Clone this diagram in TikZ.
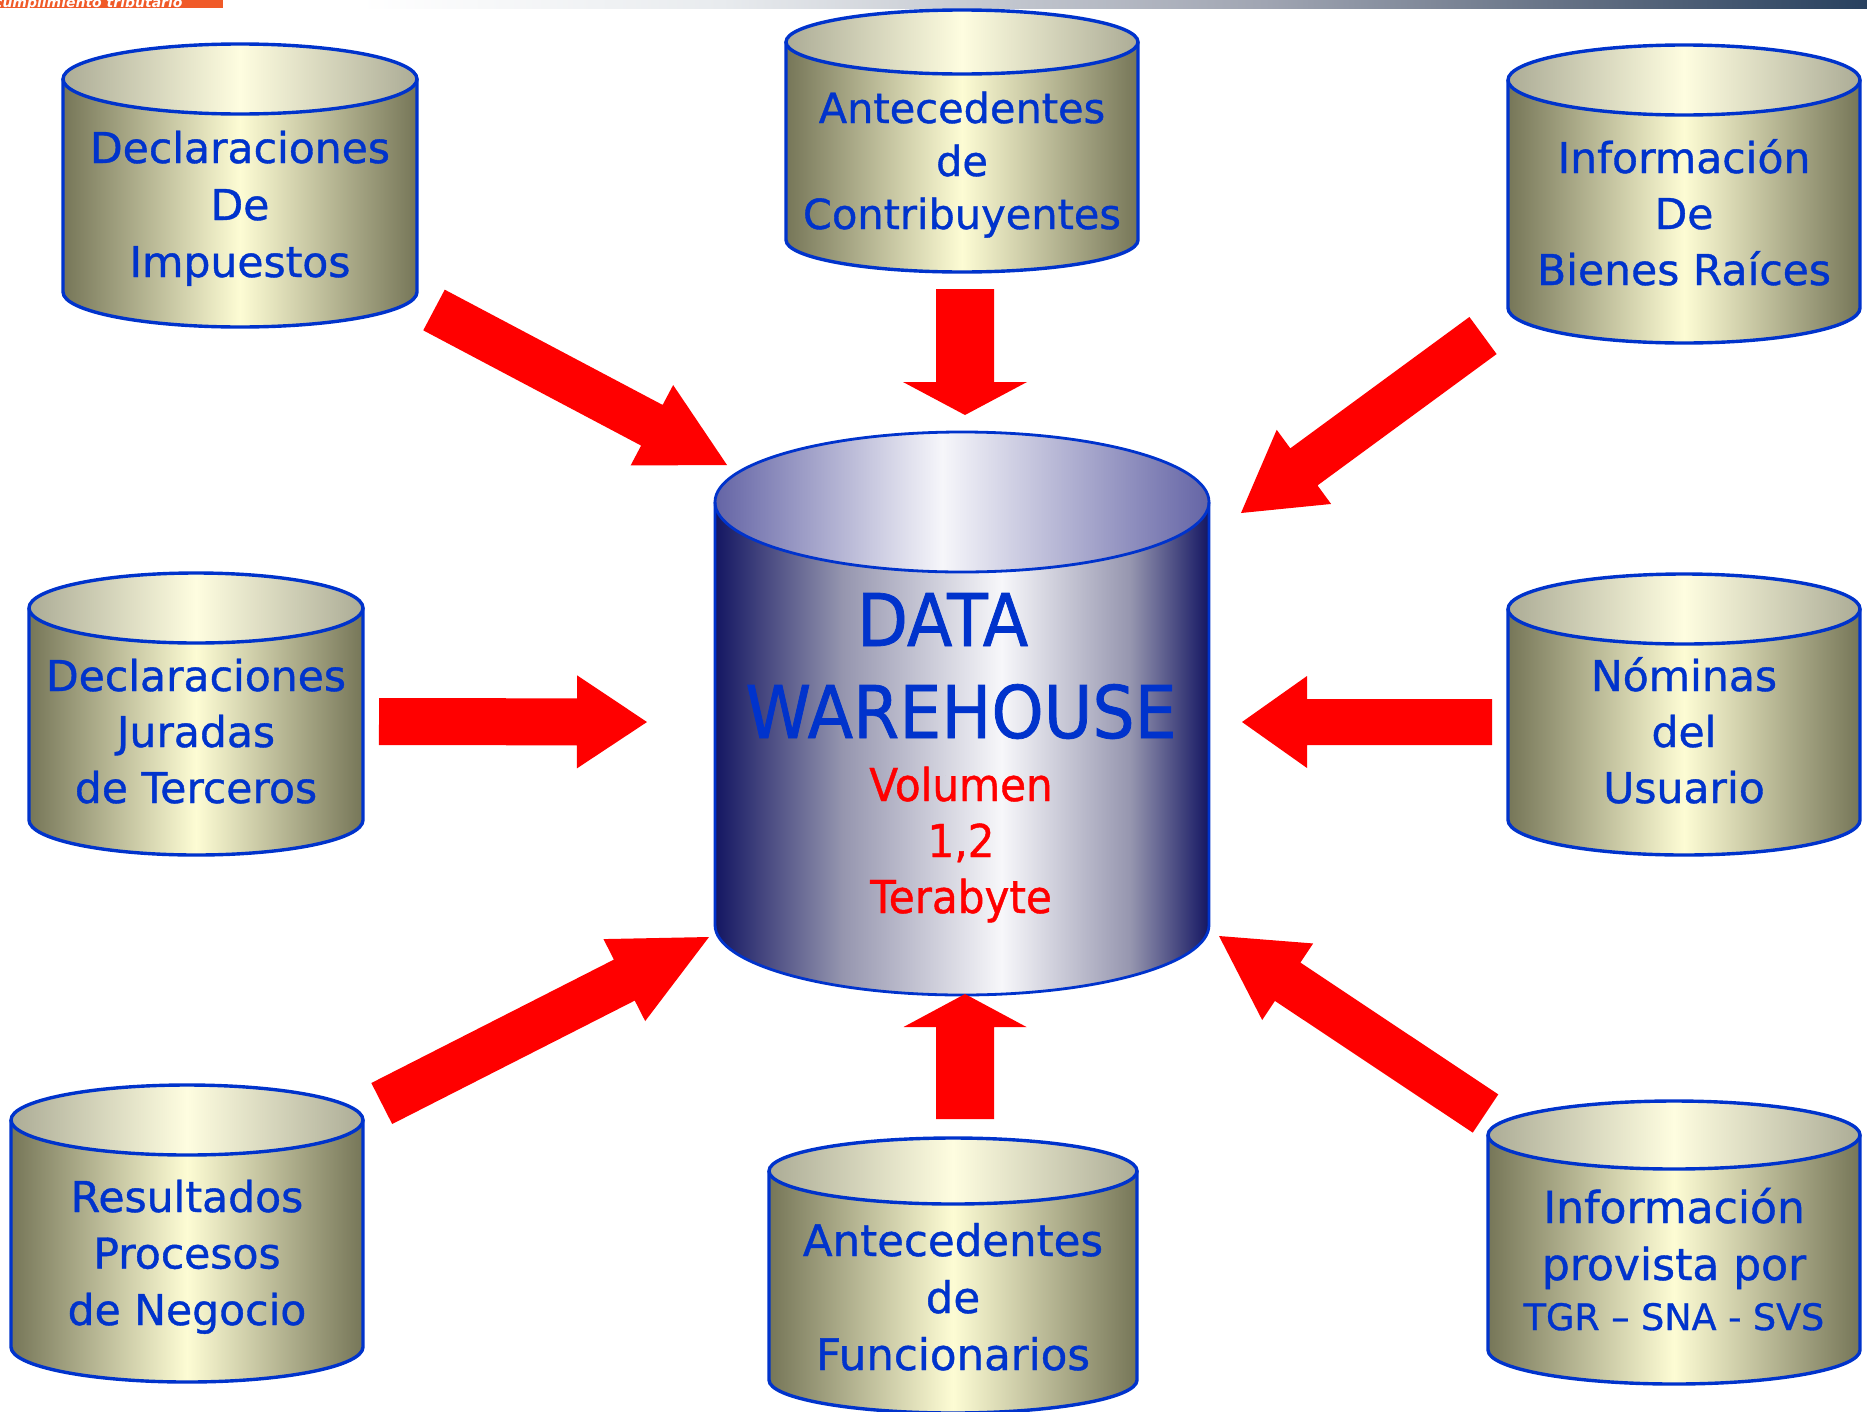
\documentclass[tikz,border=0pt]{standalone}
\usepackage{fontspec}
\setmainfont{DejaVu Sans}[FakeBold=0.9]
\newfontfamily\titlefont{DejaVu Sans}[FakeStretch=0.915,FakeBold=1.0]
\newfontfamily\redfont{DejaVu Sans}[FakeStretch=0.93,FakeBold=0.9]
\newfontfamily\hdrfont{DejaVu Sans}
\usetikzlibrary{calc}

\definecolor{txtblue}{RGB}{0,51,204}
\definecolor{cylline}{RGB}{0,51,204}
\definecolor{arrowred}{RGB}{255,0,0}
\definecolor{hdrorange}{RGB}{240,90,40}
\definecolor{olD}{RGB}{118,118,88}
\definecolor{olL}{RGB}{253,252,212}
\definecolor{otD}{RGB}{172,172,150}
\definecolor{otL}{RGB}{254,253,224}
\definecolor{nD}{RGB}{20,22,98}
\definecolor{nM}{RGB}{150,150,175}
\definecolor{nL}{RGB}{247,247,250}
\definecolor{ntD}{RGB}{100,100,165}
\definecolor{ntL}{RGB}{246,246,250}
\definecolor{barA}{RGB}{232,235,238}
\definecolor{barB}{RGB}{160,165,178}
\definecolor{barC}{RGB}{95,108,128}
\definecolor{barD}{RGB}{40,65,95}

\pgfdeclarehorizontalshading{smallside}{100bp}{color(0bp)=(olD); color(25bp)=(olD); color(50bp)=(olL); color(75bp)=(olD); color(100bp)=(olD)}
\pgfdeclarehorizontalshading{smalltop}{100bp}{color(0bp)=(otD); color(25bp)=(otD); color(50bp)=(otL); color(75bp)=(otD); color(100bp)=(otD)}
\pgfdeclarehorizontalshading{bigside}{100bp}{color(0bp)=(nD); color(25bp)=(nD); color(38bp)=(nM); color(54bp)=(nL); color(67bp)=(nM); color(75bp)=(nD); color(100bp)=(nD)}
\pgfdeclarehorizontalshading{bigtop}{100bp}{color(0bp)=(ntD); color(25bp)=(ntD); color(48bp)=(ntL); color(75bp)=(ntD); color(100bp)=(ntD)}
\pgfdeclarehorizontalshading{barshade}{100bp}{color(0bp)=(white); color(25bp)=(white); color(37bp)=(barA); color(55bp)=(barB); color(66bp)=(barC); color(75bp)=(barD); color(100bp)=(barD)}

% #1 name, #2 cx, #3 top cy, #4 bottom cy, #5 rx, #6 ry, #7 small|big, #8 line width
\newcommand\drawcyl[8]{%
  \coordinate (#1) at (#2,{(#3+#4)/2});
  \shade[shading=#7side] (#2-#5,#3) -- (#2-#5,#4) arc[start angle=180,end angle=0,x radius=#5,y radius=#6] -- (#2+#5,#3) -- cycle;
  \shade[shading=#7top] (#2,#3) ellipse[x radius=#5,y radius=#6];
  \draw[draw=cylline,line width=#8] (#2-#5,#3) -- (#2-#5,#4) arc[start angle=180,end angle=0,x radius=#5,y radius=#6] -- (#2+#5,#3);
  \draw[draw=cylline,line width=#8] (#2,#3) ellipse[x radius=#5,y radius=#6];
}
% #1 tail, #2 tip, #3 shaft half width, #4 head half width, #5 head length
\newcommand\blockarrow[5]{%
  \coordinate (hb) at ($(#2)!#5!(#1)$);
  \fill[arrowred] ($(#1)!#3!90:(#2)$) -- ($(hb)!#3!90:(#2)$) -- ($(hb)!#4!90:(#2)$) -- (#2)
    -- ($(hb)!#4!-90:(#2)$) -- ($(hb)!#3!-90:(#2)$) -- ($(#1)!#3!-90:(#2)$) -- cycle;
}

% multi-line nodes: anchor=base sits on the LAST line's baseline
\tikzset{
  lbl/.style={text=txtblue, align=center, anchor=base, inner sep=0pt, font=\fontsize{42.5}{57}\selectfont},
  redlbl/.style={text=arrowred, align=center, anchor=base, inner sep=0pt, font=\redfont\fontsize{45.3}{56}\selectfont},
  titlelbl/.style={text=txtblue, anchor=base, inner sep=0pt, font=\titlefont\fontsize{72.7}{92}\selectfont}
}

\begin{document}
\begin{tikzpicture}[x=1pt,y=1pt,yscale=-1]
\useasboundingbox (0,0) rectangle (1867,1411);
\fill[white] (0,0) rectangle (1867,1411);

% header
\shade[shading=barshade] (360,0) rectangle (1867,8);
\fill[hdrorange] (0,0) rectangle (223,8);
\begin{scope}
  \clip (0,0) rectangle (223,8);
  \node[anchor=base west, inner sep=0pt, text=white, font=\hdrfont\bfseries\itshape\fontsize{14}{14}\selectfont] (hdr) at (-6,7) {cumplimiento tributario};
\end{scope}

% cylinders
\drawcyl{c1}{240}{79}{292}{177}{35}{small}{3.4pt}
\drawcyl{c2}{962}{42}{240}{176}{32}{small}{3.4pt}
\drawcyl{c3}{1684}{80}{308}{176}{35}{small}{3.4pt}
\drawcyl{c4}{196}{608}{820}{167}{35}{small}{3.4pt}
\drawcyl{c5}{1684}{609}{820}{176}{35}{small}{3.4pt}
\drawcyl{c6}{187}{1120}{1347}{176}{35}{small}{3.4pt}
\drawcyl{c7}{953}{1171}{1380}{184}{33}{small}{3.4pt}
\drawcyl{c8}{1674}{1135}{1350}{186}{34}{small}{3.4pt}
\drawcyl{dw}{962}{502}{925}{247}{70}{big}{2.8pt}

% labels (positions = baseline of last line)
\node[lbl] (t1) at (240,277) {Declaraciones\\De\\Impuestos};
\node[lbl, font=\fontsize{41.5}{53}\selectfont] (t2) at (962,229) {Antecedentes\\de\\Contribuyentes};
\node[lbl, font=\fontsize{42.5}{56}\selectfont] (t3) at (1684,285) {Información\\De\\Bienes Raíces};
\node[lbl, font=\fontsize{42.5}{56}\selectfont] (t4) at (196,803) {Declaraciones\\Juradas\\de Terceros};
\node[lbl, font=\fontsize{42.5}{56}\selectfont] (t5) at (1684,803) {Nóminas\\del\\Usuario};
\node[lbl, font=\fontsize{42.5}{56.5}\selectfont] (t6) at (187,1325) {Resultados\\Procesos\\de Negocio};
\node[lbl, font=\fontsize{43.5}{57}\selectfont] (t7) at (953,1370) {Antecedentes\\de\\Funcionarios};
\node[lbl, font=\fontsize{44}{57}\selectfont] (t8) at (1674,1330) {Información\\provista por\\[-7pt]{\fontsize{36.5}{50}\selectfont TGR – SNA - SVS}};

\node[titlelbl] (dw1) at (942.5,646) {DATA};
\node[titlelbl] (dw2) at (961,738) {WAREHOUSE};
\node[redlbl] (vol) at (961,913) {Volumen\\1,2\\Terabyte};

% arrows
\coordinate (a1t) at (434,310);   \coordinate (a1h) at (727,465);
\coordinate (a2t) at (965,289);   \coordinate (a2h) at (965,415);
\coordinate (a3t) at (1483,335.5);\coordinate (a3h) at (1241,513);
\coordinate (a4t) at (379,721.5); \coordinate (a4h) at (647,722);
\coordinate (a5t) at (1492,722);  \coordinate (a5h) at (1242,722);
\coordinate (a6t) at (381.75,1103.5); \coordinate (a6h) at (709,937);
\coordinate (a7t) at (965,1119);  \coordinate (a7h) at (965,994);
\coordinate (a8t) at (1485.5,1113.5); \coordinate (a8h) at (1219,936);

\blockarrow{a1t}{a1h}{23pt}{45.5pt}{85pt}
\blockarrow{a2t}{a2h}{29pt}{62pt}{33pt}
\blockarrow{a3t}{a3h}{23pt}{46pt}{78pt}
\blockarrow{a4t}{a4h}{23.5pt}{46.5pt}{70pt}
\blockarrow{a5t}{a5h}{23pt}{46pt}{65pt}
\blockarrow{a6t}{a6h}{23pt}{46pt}{95pt}
\blockarrow{a7t}{a7h}{29pt}{61.5pt}{33pt}
\blockarrow{a8t}{a8h}{23pt}{46pt}{82.5pt}
\end{tikzpicture}
\end{document}
